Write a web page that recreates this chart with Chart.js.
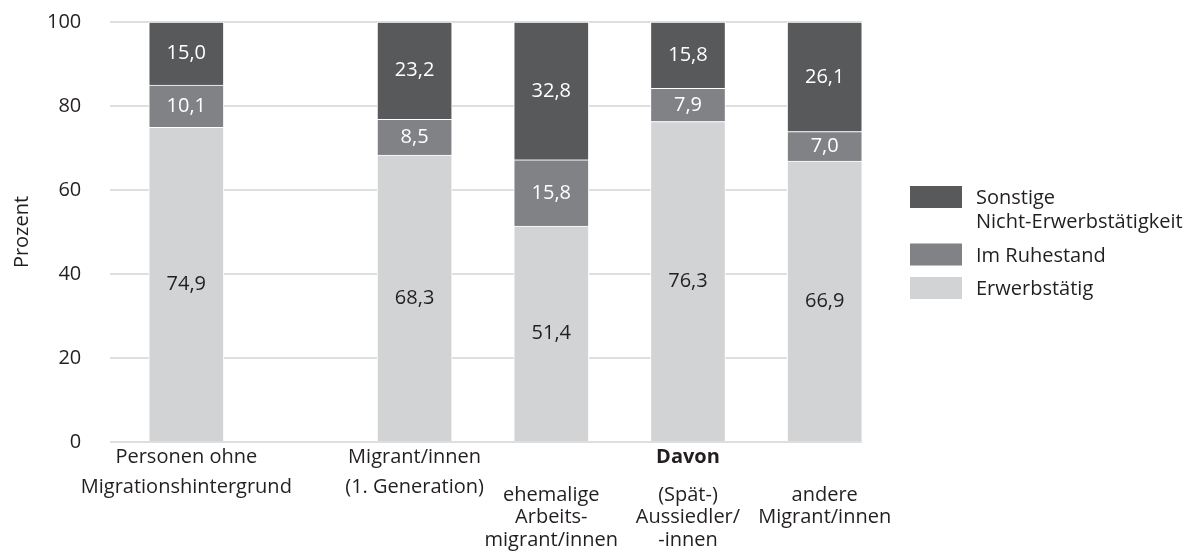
<!DOCTYPE html>
<html lang="de">
<head>
<meta charset="utf-8">
<title>Erwerbsstatus nach Migrationshintergrund</title>
<script src="https://cdn.jsdelivr.net/npm/chart.js@4/dist/chart.umd.min.js"></script>
<style>
    html, body { margin: 0; padding: 0; background: #ffffff; }
    #wrap { width: 1186px; height: 551px; position: relative; }
</style>
</head>
<body>
<div id="wrap"><canvas id="statusChart"></canvas></div>
<script>

// ------------------------------
// Data
// ------------------------------

const categories = [
    ["Personen ohne", "Migrationshintergrund"],
    ["Migrant/innen", "(1. Generation)"],
    ["ehemalige", "Arbeits-", "migrant/innen"],
    ["(Spät-)", "Aussiedler/", "-innen"],
    ["andere", "Migrant/innen"]
];

// categories 2..4 are subgroups of "Migrant/innen"
const subgroupTitle = "Davon";

const erwerbstaetig = [74.9, 68.3, 51.4, 76.3, 66.9];
const ruhestand = [10.1, 8.5, 15.8, 7.9, 7.0];
const sonstige = [15.0, 23.2, 32.8, 15.8, 26.1];

const seriesNames = [
    ["Erwerbstätig"],
    ["Im Ruhestand"],
    ["Sonstige", "Nicht-Erwerbstätigkeit"]
];

const yTicks = [0, 20, 40, 60, 80, 100];


// ------------------------------
// Look
// ------------------------------

const textColor = "#231f20";
const barColors = ["#d1d3d4", "#818285", "#58595b"];
const valueColors = [textColor, "#ffffff", "#ffffff"];
const fontFamily = "'Open Sans', 'Liberation Sans', sans-serif";

// extra room between the first bar and the migrant group
const groupGap = 0.67;
const xPos = categories.map((c, i) => i === 0 ? 0 : i + groupGap);

Chart.defaults.font.family = fontFamily;
Chart.defaults.font.size = 20;
Chart.defaults.color = textColor;

function fmt(v) {
    return v.toFixed(1).replace(".", ",");
}


// ------------------------------
// Plugins: values, x labels, legend
// ------------------------------

const segmentValues = {
    id: "segmentValues",
    afterDatasetsDraw(chart) {
        const ctx = chart.ctx;
        ctx.save();
        ctx.font = "20px " + fontFamily;
        ctx.textAlign = "center";
        ctx.textBaseline = "middle";
        chart.data.datasets.forEach((ds, d) => {
            chart.getDatasetMeta(d).data.forEach((bar, i) => {
                ctx.fillStyle = valueColors[d];
                ctx.fillText(fmt(ds.data[i].y), bar.x, (bar.y + bar.base) / 2);
            });
        });
        ctx.restore();
    }
};

const categoryLabels = {
    id: "categoryLabels",
    afterDraw(chart) {
        const ctx = chart.ctx;
        const x = chart.scales.x;
        const bottom = chart.chartArea.bottom;
        ctx.save();
        ctx.fillStyle = textColor;
        ctx.textAlign = "center";
        ctx.textBaseline = "middle";

        ctx.font = "20px " + fontFamily;
        categories.forEach((lines, i) => {
            const cx = x.getPixelForValue(xPos[i]);
            const sub = i >= 2;
            const y0 = bottom + (sub ? 53 : 15);
            const step = sub ? 22.5 : 30;
            lines.forEach((t, k) => ctx.fillText(t, cx, y0 + k * step));
        });

        ctx.font = "bold 20px " + fontFamily;
        const mid = (x.getPixelForValue(xPos[2]) + x.getPixelForValue(xPos[4])) / 2;
        ctx.fillText(subgroupTitle, mid, bottom + 15);
        ctx.restore();
    }
};

const sideLegend = {
    id: "sideLegend",
    afterDraw(chart) {
        const ctx = chart.ctx;
        const lx = chart.chartArea.right + 48;
        let ly = chart.chartArea.top + 164;
        ctx.save();
        ctx.font = "20px " + fontFamily;
        ctx.textAlign = "left";
        ctx.textBaseline = "middle";
        for (let d = seriesNames.length - 1; d >= 0; d--) {
            ctx.fillStyle = barColors[d];
            ctx.fillRect(lx, ly, 52, 22);
            ctx.fillStyle = textColor;
            seriesNames[d].forEach((t, k) => ctx.fillText(t, lx + 66, ly + 12.5 + k * 24));
            ly += seriesNames[d].length * 24 + 9.5;
        }
        ctx.restore();
    }
};


// ------------------------------
// Chart
// ------------------------------

function series(values) {
    return values.map((v, i) => ({ x: xPos[i], y: v }));
}

const statusChart = new Chart(document.getElementById("statusChart"), {

    type: "bar",

    data: {

        datasets: [erwerbstaetig, ruhestand, sonstige].map((values, d) => ({
            label: seriesNames[d].join(" "),
            data: series(values),
            backgroundColor: barColors[d],
            borderColor: "#ffffff",
            borderWidth: 1,
            barThickness: 75
        }))

    },

    options: {

        responsive: true,
        maintainAspectRatio: false,
        animation: false,

        layout: {
            padding: { top: 0, right: 324, bottom: 109, left: 0 }
        },

        plugins: {
            legend: { display: false },
            tooltip: { enabled: false }
        },

        scales: {

            x: {
                type: "linear",
                stacked: true,
                offset: false,
                min: -0.556,
                max: 4.943,
                display: false
            },

            y: {
                stacked: true,
                min: 0,
                max: 100,
                afterBuildTicks(scale) {
                    scale.ticks = yTicks.map(v => ({ value: v }));
                },
                border: { display: false },
                grid: {
                    color: "#dedede",
                    lineWidth: 2,
                    drawTicks: true,
                    tickLength: 19,
                    tickColor: "rgba(0,0,0,0)"
                },
                ticks: {
                    padding: 10,
                    color: textColor
                },
                title: {
                    display: true,
                    text: "Prozent",
                    color: textColor,
                    padding: { top: 10, bottom: 3 }
                }
            }

        }

    },

    plugins: [segmentValues, categoryLabels, sideLegend]

});

</script>
</body>
</html>
